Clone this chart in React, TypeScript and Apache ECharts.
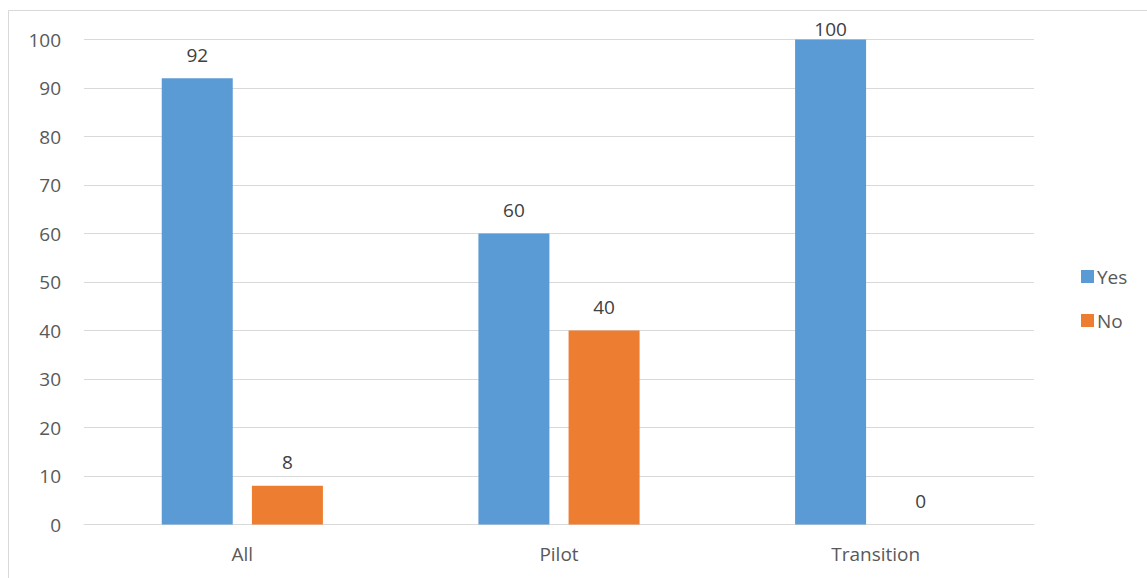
import React, { useEffect, useRef } from "react";
import * as echarts from "echarts";

const categories = ["All", "Pilot", "Transition"];
const yesValues = [92, 60, 100];
const noValues = [8, 40, 0];
const seriesNames = ["Yes", "No"];

export default function App() {
  const ref = useRef<HTMLDivElement>(null);
  useEffect(() => {
    const chart = echarts.init(ref.current!, null, { renderer: "svg" });
    const font = "'Open Sans', sans-serif";
    const labelStyle = {
      show: true,
      position: "top" as const,
      distance: 14,
      color: "#404040",
      fontSize: 19,
      fontFamily: font,
    };
    // Labels at the top of the plot are pushed down toward the bar, as in the original
    const withLabelFit = (vals: number[]) =>
      vals.map((v) => (v >= 100 ? { value: v, label: { distance: 1 } } : v));
    chart.setOption({
      animation: false,
      backgroundColor: "#ffffff",
      graphic: [
        {
          type: "rect",
          shape: { x: 8.5, y: 10.5, width: 1200, height: 600 },
          style: { fill: "none", stroke: "#d9d9d9", lineWidth: 1 },
          silent: true,
        },
      ],
      grid: { left: 84, right: 113, top: 39.5, bottom: 53.5, containLabel: false },
      legend: {
        orient: "vertical",
        left: 1076,
        top: 262,
        itemWidth: 13,
        itemHeight: 13,
        itemGap: 25,
        icon: "rect",
        textStyle: { color: "#595959", fontSize: 19, fontFamily: font, padding: [0, 0, 0, -2] },
        data: seriesNames,
      },
      xAxis: {
        type: "category",
        data: categories,
        axisLine: { show: true, lineStyle: { color: "#d9d9d9", width: 1 } },
        axisTick: { show: false },
        axisLabel: { color: "#595959", fontSize: 19, fontFamily: font, margin: 20 },
      },
      yAxis: {
        type: "value",
        min: 0,
        max: 100,
        interval: 10,
        axisLine: { show: false },
        axisTick: { show: false },
        splitLine: { lineStyle: { color: "#d9d9d9", width: 1 } },
        axisLabel: { color: "#595959", fontSize: 19, fontFamily: font, margin: 23 },
      },
      series: [
        {
          name: seriesNames[0],
          type: "bar",
          data: withLabelFit(yesValues),
          barWidth: 71,
          barGap: "27%",
          itemStyle: { color: "#5b9bd5" },
          label: labelStyle,
        },
        {
          name: seriesNames[1],
          type: "bar",
          data: withLabelFit(noValues),
          barWidth: 71,
          barGap: "27%",
          itemStyle: { color: "#ed7d31" },
          label: labelStyle,
        },
      ],
    });
    return () => chart.dispose();
  }, []);
  return <div ref={ref} style={{ width: 1147, height: 578, position: "absolute", left: 0, top: 0 }} />;
}
